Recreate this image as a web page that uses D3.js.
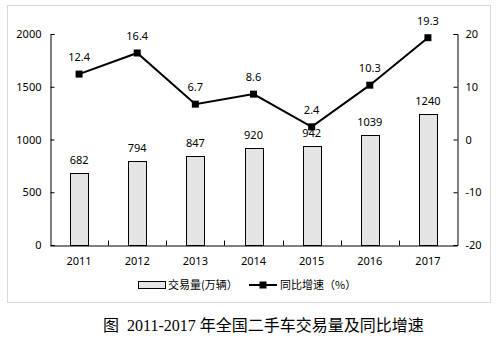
<!DOCTYPE html>
<html>
<head>
<meta charset="utf-8">
<script src="https://cdn.jsdelivr.net/npm/d3@7"></script>
<style>
  body { margin: 0; background: #fff; }
  svg text { font-family: "Noto Sans", "Noto Sans CJK SC", sans-serif; fill: #000; }
</style>
</head>
<body>
<div id="chart"></div>
<script>
// Data
const years = ["2011", "2012", "2013", "2014", "2015", "2016", "2017"];
const volume = [682, 794, 847, 920, 942, 1039, 1240];     // 交易量(万辆)
const growth = [12.4, 16.4, 6.7, 8.6, 2.4, 10.3, 19.3];   // 同比增速(%)
const leftTicks = [0, 500, 1000, 1500, 2000];
const rightTicks = [-20, -10, 0, 10, 20];

const W = 499, H = 338;
const plot = {left: 50, right: 457, top: 34, bottom: 245};

const svg = d3.select("#chart").append("svg")
    .attr("width", W)
    .attr("height", H);

// Light outer frame
svg.append("rect")
    .attr("x", 7.5).attr("y", 5.5)
    .attr("width", 483).attr("height", 297)
    .attr("fill", "none")
    .attr("stroke", "#d9d9d9");

const x = d3.scaleBand()
    .domain(years)
    .range([plot.left, plot.right])
    .padding(0);

const y = d3.scaleLinear()
    .domain([0, 2000])
    .range([plot.bottom, plot.top]);

const y2 = d3.scaleLinear()
    .domain([-20, 20])
    .range([plot.bottom, plot.top]);

// Left axis (ticks inside)
const gl = svg.append("g")
    .attr("transform", `translate(${plot.left + 0.5},0)`)
    .call(d3.axisLeft(y).tickValues(leftTicks).tickSize(-4).tickPadding(9).tickFormat(d => String(d)));
gl.selectAll("text").style("font-size", "11px");

// Right axis (plain hyphen for negatives, like the original)
const gr = svg.append("g")
    .attr("transform", `translate(${plot.right + 0.5},0)`)
    .call(d3.axisRight(y2).tickValues(rightTicks).tickSize(-4).tickPadding(8).tickFormat(d => String(d)));
gr.selectAll("text").style("font-size", "11px");

// Bottom axis with ticks between categories
const gb = svg.append("g")
    .attr("transform", `translate(0,${plot.bottom + 0.5})`)
    .call(d3.axisBottom(x).tickSize(0).tickPadding(12));
gb.selectAll("text").style("font-size", "11px");
gb.selectAll(".tick line").remove();
gb.selectAll(".sep")
    .data(years.slice(1))
    .enter().append("line")
    .attr("x1", d => Math.round(x(d)) + 0.5)
    .attr("x2", d => Math.round(x(d)) + 0.5)
    .attr("y1", 0).attr("y2", -5)
    .attr("stroke", "#000");

[gl, gr, gb].forEach(g => {
    g.select(".domain").attr("stroke", "#000");
    g.selectAll(".tick line").attr("stroke", "#000");
});

// Bars
const barW = 18;
svg.selectAll(".bar")
    .data(volume)
    .enter().append("rect")
    .attr("class", "bar")
    .attr("x", (d, i) => Math.round(x(years[i]) + x.bandwidth() / 2 - barW / 2) + 0.5)
    .attr("y", d => Math.round(y(d)) + 0.5)
    .attr("width", barW)
    .attr("height", d => Math.round(y(0)) - Math.round(y(d)))
    .attr("fill", "#e4e4e4")
    .attr("stroke", "#000");

svg.selectAll(".barlabel")
    .data(volume)
    .enter().append("text")
    .attr("x", (d, i) => x(years[i]) + x.bandwidth() / 2)
    .attr("y", d => y(d) - 9)
    .attr("text-anchor", "middle")
    .style("font-size", "11px")
    .text(d => d);

// Growth line
const line = d3.line()
    .x((d, i) => x(years[i]) + x.bandwidth() / 2)
    .y(d => y2(d));

svg.append("path")
    .datum(growth)
    .attr("fill", "none")
    .attr("stroke", "#000")
    .attr("stroke-width", 2)
    .attr("d", line);

svg.selectAll(".marker")
    .data(growth)
    .enter().append("rect")
    .attr("x", (d, i) => x(years[i]) + x.bandwidth() / 2 - 3.5)
    .attr("y", d => y2(d) - 3.5)
    .attr("width", 7).attr("height", 7)
    .attr("fill", "#000");

svg.selectAll(".growthlabel")
    .data(growth)
    .enter().append("text")
    .attr("x", (d, i) => x(years[i]) + x.bandwidth() / 2)
    .attr("y", d => y2(d) - 13)
    .attr("text-anchor", "middle")
    .style("font-size", "11px")
    .text(d => d.toFixed(1));

// Legend
const legend = svg.append("g").attr("transform", "translate(0,285)");

legend.append("rect")
    .attr("x", 138.5).attr("y", -3.5)
    .attr("width", 27).attr("height", 7)
    .attr("fill", "#e4e4e4")
    .attr("stroke", "#000");

legend.append("text")
    .attr("x", 168).attr("y", 4)
    .style("font-size", "11px")
    .style("font-family", "'Noto Sans CJK SC', sans-serif")
    .text("交易量(万辆）");

legend.append("line")
    .attr("x1", 249).attr("x2", 277)
    .attr("y1", 0).attr("y2", 0)
    .attr("stroke", "#000")
    .attr("stroke-width", 2);

legend.append("rect")
    .attr("x", 259.5).attr("y", -3.5)
    .attr("width", 7).attr("height", 7)
    .attr("fill", "#000");

legend.append("text")
    .attr("x", 280).attr("y", 4)
    .style("font-size", "11px")
    .style("font-family", "'Noto Sans CJK SC', sans-serif")
    .text("同比增速（%）");

// Caption below the frame
const caption = svg.append("text")
    .attr("x", 103).attr("y", 331)
    .style("font-size", "16px")
    .style("font-family", "'Noto Sans CJK SC', sans-serif");
caption.append("tspan").text("图");
caption.append("tspan")
    .attr("dx", 8)
    .style("font-family", "'Liberation Serif', serif")
    .text("2011-2017");
caption.append("tspan")
    .attr("dx", 4)
    .text("年全国二手车交易量及同比增速");
</script>
</body>
</html>
